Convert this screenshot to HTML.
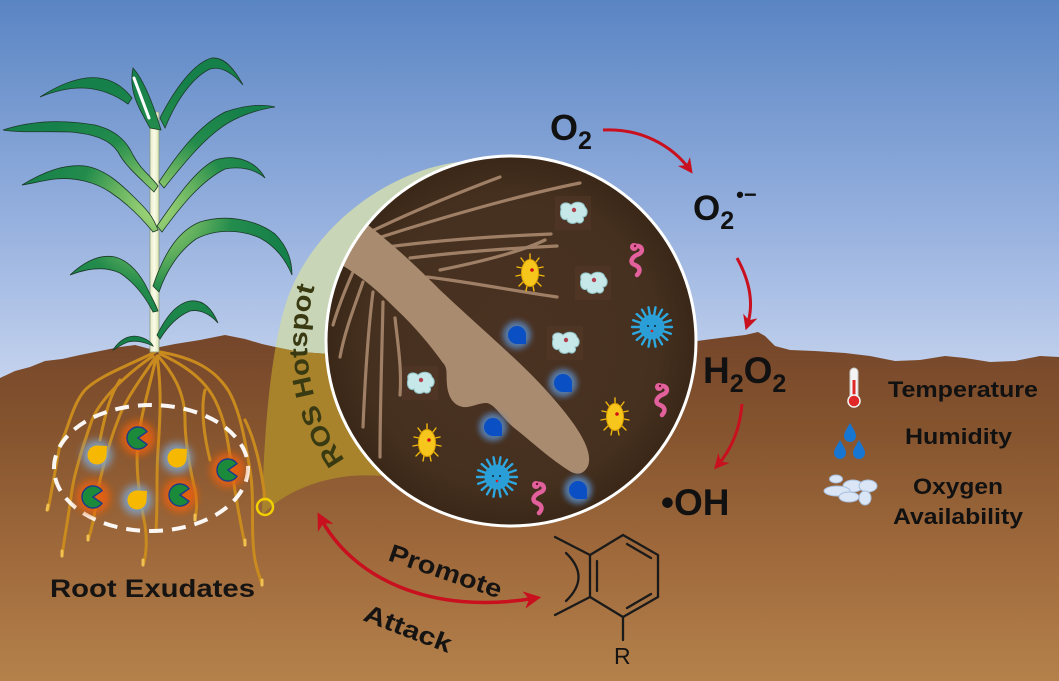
<!DOCTYPE html>
<html><head><meta charset="utf-8"><style>html,body{margin:0;padding:0;background:#fff}svg{display:block}</style></head>
<body>
<svg width="1059" height="681" viewBox="0 0 1059 681" xmlns="http://www.w3.org/2000/svg" font-family="'Liberation Sans', sans-serif">
<defs>
  <linearGradient id="sky" x1="0" y1="0" x2="0" y2="1" gradientUnits="objectBoundingBox">
    <stop offset="0" stop-color="#5a85c3"/><stop offset="0.5" stop-color="#90acdc"/><stop offset="1" stop-color="#cad7f0"/>
  </linearGradient>
  <linearGradient id="soil" x1="0" y1="330" x2="0" y2="681" gradientUnits="userSpaceOnUse">
    <stop offset="0" stop-color="#74452a"/><stop offset="0.3" stop-color="#86552f"/><stop offset="0.65" stop-color="#a06a3c"/><stop offset="1" stop-color="#b4814b"/>
  </linearGradient>
  <radialGradient id="circ" cx="511" cy="341" r="185" gradientUnits="userSpaceOnUse">
    <stop offset="0" stop-color="#4b3222"/><stop offset="0.8" stop-color="#45301f"/><stop offset="1" stop-color="#3a2717"/>
  </radialGradient>
  <radialGradient id="leaf" cx="155" cy="210" r="130" gradientUnits="userSpaceOnUse">
    <stop offset="0" stop-color="#a6d87a"/><stop offset="0.35" stop-color="#62b05e"/><stop offset="0.6" stop-color="#238c4c"/><stop offset="1" stop-color="#16804a"/>
  </radialGradient>
  <linearGradient id="stem" x1="0" y1="0" x2="1" y2="0">
    <stop offset="0" stop-color="#e6ecc8"/><stop offset="0.5" stop-color="#fbfbe8"/><stop offset="1" stop-color="#d8e4b0"/>
  </linearGradient>
  <clipPath id="cclip"><circle cx="511" cy="341" r="184"/></clipPath>
  <clipPath id="soilclip"><path d="M0,378 L15,371 L30,367 L45,361 L62,359 L80,355 L100,351 L120,347 L135,345 L150,349 L175,344 L200,340 L225,335 L245,339 L262,344 L280,348 L300,352 L330,354 L420,350 L600,345 L697,341 L1059,357 L1059,681 L0,681 Z"/></clipPath>
  <filter id="bl4" x="-1" y="-1" width="3" height="3"><feGaussianBlur stdDeviation="4"/></filter>
  <filter id="bl3" x="-1" y="-1" width="3" height="3"><feGaussianBlur stdDeviation="3"/></filter>
  <marker id="ah" viewBox="0 0 10 10" refX="7" refY="5" markerWidth="5" markerHeight="5" orient="auto-start-reverse" markerUnits="strokeWidth">
    <path d="M0,0 L10,5 L0,10 L3,5 Z" fill="#c8101e"/>
  </marker>
  <g id="bac">
    <g stroke="#f2b80c" stroke-width="1.4" stroke-linecap="round">
      <path d="M0,-14 L0,-19 M6,-11 L9,-15 M8,-5 L13,-6 M9,2 L14,3 M7,9 L11,13 M3,13 L4,18 M-3,13 L-4,18 M-7,9 L-11,13 M-9,2 L-14,3 M-8,-5 L-13,-6 M-6,-11 L-9,-15"/>
    </g>
    <ellipse rx="8.5" ry="13.5" fill="#f7c61c" stroke="#dca000" stroke-width="1"/>
    <circle cx="2" cy="-3" r="1.8" fill="#d01010"/>
  </g>
  <g id="vir">
    <path d="M12,0 L20,0 M11.3,4.1 L18.8,6.8 M9.2,7.7 L15.3,12.9 M6,10.4 L10,17.3 M2.1,11.8 L3.5,19.7 M-2.1,11.8 L-3.5,19.7 M-6,10.4 L-10,17.3 M-9.2,7.7 L-15.3,12.9 M-11.3,4.1 L-18.8,6.8 M-12,0 L-20,0 M-11.3,-4.1 L-18.8,-6.8 M-9.2,-7.7 L-15.3,-12.9 M-6,-10.4 L-10,-17.3 M-2.1,-11.8 L-3.5,-19.7 M2.1,-11.8 L3.5,-19.7 M6,-10.4 L10,-17.3 M9.2,-7.7 L15.3,-12.9 M11.3,-4.1 L18.8,-6.8" stroke="#2ea8e0" stroke-width="2.4" stroke-linecap="round"/>
    <circle r="12.5" fill="#2a9ed6"/>
    <circle cx="-4" cy="-1" r="1" fill="#123"/><circle cx="3" cy="-1" r="1" fill="#123"/><circle cx="0" cy="4" r="1.3" fill="#d02020"/>
  </g>
  <g id="worm">
    <path d="M-2,-10 C6,-14 10,-6 4,-3 C-4,0 -6,6 0,8 C5,10 6,14 2,18" stroke="#e2609c" stroke-width="4.5" fill="none" stroke-linecap="round"/>
    <circle cx="-1" cy="-10" r="4" fill="#e2609c"/><circle cx="0" cy="-11" r="1.2" fill="#701030"/>
  </g>
  <g id="amo">
    <rect x="-18" y="-17" width="36" height="34" fill="#533828" opacity="0.55"/>
    <path d="M-12,-4 C-14,-10 -6,-12 -2,-8 C2,-12 10,-12 12,-6 C16,-2 14,4 10,4 C12,8 8,12 4,9 C0,12 -6,10 -6,6 C-10,8 -14,4 -12,-4 Z" fill="#c6e8e8" stroke="#90c0c4" stroke-width="1"/>
    <circle cx="1" cy="-3" r="2.2" fill="#b04050"/>
  </g>
  <g id="pac">
    <circle r="17" fill="#e8600e" filter="url(#bl4)" opacity="0.9"/>
    <path d="M0,0 L9,-6.3 A11,11 0 1 0 9,6.3 Z" fill="#1b8a3a" stroke="#1d3a8a" stroke-width="1.4"/>
  </g>
  <g id="ydrop">
    <circle r="15" fill="#7fa3c8" filter="url(#bl4)" opacity="0.9"/>
    <path d="M10,-9 L9.5,0 A9.5,9.5 0 1 1 0,-9.5 Z" fill="#f6b800"/>
  </g>
  <g id="bdrop">
    <circle r="14" fill="#5a88c0" filter="url(#bl3)" opacity="0.85"/>
    <path d="M9,9 L9,0 A9,9 0 1 0 0,9 Z" fill="#0b4fc4"/>
  </g>
</defs>

<!-- sky -->
<rect x="0" y="0" width="1059" height="400" fill="url(#sky)"/>

<!-- ROS band pale -->
<path d="M458,162 C385,172 312,228 287,300 C272,345 264,420 262,515 C285,492 315,480 350,476 C390,473 420,480 450,495 L520,341 Z" fill="#c8d5b6"/>

<!-- soil -->
<path d="M0,378 L15,371 L30,367 L45,361 L62,359 L80,355 L100,351 L120,347 L135,345 L150,349 L175,344 L200,340 L225,335 L245,339 L262,344 L280,348 L300,352 L330,354 L420,350 L600,345 L697,341 L720,338 L745,335 L758,332 L765,336 L775,346 L790,350 L815,351 L845,353 L870,356 L895,361 L920,360 L945,356 L965,358 L990,362 L1015,361 L1040,356 L1059,357 L1059,681 L0,681 Z" fill="url(#soil)"/>

<!-- ROS band golden below soil -->
<g clip-path="url(#soilclip)">
  <path d="M458,162 C385,172 312,228 287,300 C272,345 264,420 262,515 C285,492 315,480 350,476 C390,473 420,480 450,495 L520,341 Z" fill="#a8832c"/>
</g>

<!-- ROS Hotspot text -->
<path id="rosarc" d="M345,460 A204,204 0 0 1 316,282" fill="none"/>
<text font-size="26" font-weight="bold" fill="#3a3a12" textLength="182" lengthAdjust="spacingAndGlyphs"><textPath href="#rosarc">ROS Hotspot</textPath></text>

<!-- roots -->
<g fill="none" stroke="#c98b1e" stroke-width="3" stroke-linecap="round">
  <path d="M155,352 C130,365 100,375 85,390 C72,405 68,430 60,445 C55,470 52,490 48,510"/>
  <path d="M153,356 C125,375 100,400 92,420 C85,440 75,470 72,490 C68,520 64,540 62,556"/>
  <path d="M155,358 C140,380 125,400 118,420 C110,440 105,460 100,480 C96,500 95,520 88,540"/>
  <path d="M156,358 C150,385 142,410 138,440 C135,470 140,500 145,525 C148,545 145,560 143,565"/>
  <path d="M157,356 C162,390 160,420 158,450 C156,480 158,500 156,530"/>
  <path d="M158,356 C175,375 185,395 185,420 C185,440 190,470 195,490 C198,505 196,515 195,520"/>
  <path d="M160,354 C185,365 205,380 215,400 C225,420 228,440 232,470 C236,500 240,520 245,545"/>
  <path d="M160,352 C195,358 215,370 228,390 C240,410 245,440 250,470 C255,500 250,530 255,560 C258,575 262,582 262,585"/>
  <path d="M245,420 C255,440 262,470 265,500"/>
  <path d="M120,380 C110,395 105,415 100,440"/>
  <path d="M205,390 C200,410 205,440 210,460"/>
</g>
<g stroke="#f0c050" stroke-width="3" stroke-linecap="round">
  <path d="M48,505 L47,510 M62,551 L62,556 M88,536 L88,540 M143,560 L143,565 M195,515 L195,520 M245,540 L245,545 M262,580 L262,585"/>
</g>
<ellipse cx="151" cy="468" rx="97" ry="63" fill="none" stroke="#ffffff" stroke-width="4" stroke-dasharray="14 9" opacity="0.95"/>
<use href="#pac" x="138" y="438"/>
<use href="#pac" x="228" y="470"/>
<use href="#pac" x="93" y="497"/>
<use href="#pac" x="180" y="495"/>
<use href="#ydrop" x="97" y="455"/>
<use href="#ydrop" x="177" y="458"/>
<use href="#ydrop" x="137" y="500"/>
<circle cx="265" cy="507" r="8" fill="none" stroke="#f2d000" stroke-width="2.5"/>

<!-- plant -->
<rect x="150" y="112" width="9" height="240" fill="url(#stem)" stroke="#8a9a80" stroke-width="0.8"/>
<g fill="url(#leaf)" stroke="#1c3a28" stroke-width="0.8">
  <path d="M150,128 C140,110 128,92 133,68 C142,78 152,100 161,130 Z"/>
  <path d="M132,98 C112,72 82,70 40,97 C72,84 100,84 128,104 Z"/>
  <path d="M160,118 C175,88 195,62 212,58 C225,57 235,70 243,85 C232,72 220,66 210,69 C195,76 178,96 165,128 Z"/>
  <path d="M159,182 C180,150 200,125 225,112 C245,105 262,104 275,107 C262,109 245,113 228,123 C205,137 185,162 164,188 Z"/>
  <path d="M3,130 C30,121 60,119 95,125 C115,130 126,140 133,155 C141,170 151,176 158,186 L154,192 C140,178 126,167 118,152 C110,140 95,134 70,132 C45,131 20,133 3,130 Z"/>
  <path d="M22,185 C45,171 65,164 85,166 C105,169 121,184 136,199 C146,209 153,216 158,230 L153,232 C140,216 125,202 110,192 C95,182 75,177 55,179 C40,181 30,184 22,185 Z"/>
  <path d="M157,226 C175,200 195,170 215,160 C235,154 255,160 265,178 C255,169 240,166 225,169 C201,181 181,206 162,232 Z"/>
  <path d="M153,286 C165,250 180,230 200,222 C225,214 255,219 275,234 C288,247 292,262 292,275 C285,258 275,246 260,238 C240,229 215,229 196,239 C179,251 166,271 159,292 Z"/>
  <path d="M70,275 C85,261 100,254 115,257 C130,261 141,275 148,290 C153,300 156,305 158,311 L153,312 C145,296 135,283 120,273 C105,266 88,268 70,275 Z"/>
  <path d="M157,335 C165,319 175,304 190,301 C205,299 213,311 218,323 C210,314 200,309 190,311 C178,316 168,326 160,339 Z"/>
  <path d="M113,350 C120,339 130,334 140,337 C147,339 151,342 153,346 C145,342 135,340 128,342 C122,344 117,348 113,350 Z"/>
</g>
<path d="M134,78 L149,118" stroke="#ffffff" stroke-width="3" stroke-linecap="round"/>

<!-- circle -->
<circle cx="511" cy="341" r="185" fill="url(#circ)"/>
<g clip-path="url(#cclip)">
  <g fill="none" stroke="#9f8066" stroke-width="3.2" stroke-linecap="round">
    <path d="M372,231 C420,208 460,192 500,177"/>
    <path d="M378,238 C440,218 520,195 580,183"/>
    <path d="M387,247 C440,240 500,236 551,234"/>
    <path d="M410,258 C460,252 515,248 557,246"/>
    <path d="M427,277 C470,282 520,292 557,297"/>
    <path d="M440,270 C480,262 520,252 545,240"/>
    <path d="M353,272 C345,290 338,308 333,325"/>
    <path d="M363,282 C355,305 345,330 340,357"/>
    <path d="M373,292 C368,330 365,380 363,427"/>
    <path d="M383,302 C382,350 380,410 380,457"/>
    <path d="M395,318 C398,345 402,370 400,395"/>
  </g>
  <path d="M368,225 C400,250 425,275 440,290 C470,318 495,340 513,357 C540,382 560,405 573,423 C585,440 592,455 588,466 C583,476 575,475 568,470 C545,455 530,440 513,427 C500,415 495,405 487,403 C478,403 470,408 463,407 C452,405 448,395 447,385 C446,375 448,368 443,363 C430,345 415,327 397,310 C380,293 365,278 330,258 L340,220 Z" fill="#a98b70"/>
  <use href="#amo" x="573" y="213"/>
  <use href="#amo" x="593" y="283"/>
  <use href="#amo" x="565" y="343"/>
  <use href="#amo" x="420" y="383"/>
  <use href="#worm" x="635" y="257"/>
  <use href="#worm" x="660" y="397"/>
  <use href="#worm" x="537" y="495"/>
  <use href="#bac" x="530" y="273"/>
  <use href="#bac" x="615" y="417"/>
  <use href="#bac" x="427" y="443"/>
  <use href="#vir" x="652" y="327"/>
  <use href="#vir" x="497" y="477"/>
  <use href="#bdrop" x="517" y="335"/>
  <use href="#bdrop" x="563" y="383"/>
  <use href="#bdrop" x="493" y="427"/>
  <use href="#bdrop" x="578" y="490"/>
</g>
<circle cx="511" cy="341" r="185" fill="none" stroke="#ffffff" stroke-width="3"/>

<!-- ROS chain -->
<g font-weight="bold" fill="#111">
  <text x="550" y="140" font-size="36">O<tspan font-size="25" dy="9">2</tspan></text>
  <text x="693" y="220" font-size="35">O<tspan font-size="25" dy="9">2</tspan><tspan font-size="22" dx="2" dy="-27">•−</tspan></text>
  <text x="703" y="383" font-size="37">H<tspan font-size="25" dy="9">2</tspan><tspan dy="-9">O</tspan><tspan font-size="25" dy="9">2</tspan></text>
  <text x="661" y="515" font-size="37">•OH</text>
</g>
<g fill="none" stroke="#c8101e" stroke-width="3" marker-end="url(#ah)">
  <path d="M603,130 C640,128 672,145 690,170"/>
  <path d="M737,258 C752,285 753,308 747,326"/>
  <path d="M742,404 C740,430 731,450 717,466"/>
</g>

<!-- legend -->
<g>
  <rect x="850" y="368" width="8" height="32" rx="4" fill="#f4f4f4" stroke="#c8c8c8" stroke-width="1"/>
  <rect x="852.5" y="380" width="3" height="20" fill="#e02828"/>
  <circle cx="854" cy="401" r="6" fill="#e02828" stroke="#f4f4f4" stroke-width="1.5"/>
  <path d="M850,423 C846,430 844,433 844,436 A6,6 0 0 0 856,436 C856,433 854,430 850,423 Z" fill="#1676d2"/>
  <path d="M840,440 C836,447 834,450 834,453 A6,6 0 0 0 846,453 C846,450 844,447 840,440 Z" fill="#1676d2"/>
  <path d="M859,440 C855,447 853,450 853,453 A6,6 0 0 0 865,453 C865,450 863,447 859,440 Z" fill="#1676d2"/>
  <g fill="#dae6f5" stroke="#a8bedd" stroke-width="1">
    <ellipse cx="836" cy="479" rx="6.5" ry="4"/>
    <ellipse cx="853" cy="486" rx="10" ry="6"/>
    <ellipse cx="868" cy="486" rx="9" ry="6"/>
    <ellipse cx="837" cy="491" rx="13" ry="5"/>
    <ellipse cx="849" cy="497" rx="10" ry="5"/>
    <ellipse cx="865" cy="498" rx="6" ry="7"/>
  </g>
</g>
<g font-weight="bold" fill="#111" font-size="22">
  <text x="888" y="397" textLength="150" lengthAdjust="spacingAndGlyphs">Temperature</text>
  <text x="905" y="444" textLength="107" lengthAdjust="spacingAndGlyphs">Humidity</text>
  <text x="913" y="494" textLength="90" lengthAdjust="spacingAndGlyphs">Oxygen</text>
  <text x="893" y="524" textLength="130" lengthAdjust="spacingAndGlyphs">Availability</text>
</g>

<!-- Root exudates label -->
<text x="50" y="597" font-size="25" font-weight="bold" fill="#161412" textLength="205" lengthAdjust="spacingAndGlyphs">Root Exudates</text>

<!-- double arrow -->
<path d="M320,517 C352,578 430,616 536,598" fill="none" stroke="#c8101e" stroke-width="3.5" marker-start="url(#ah)" marker-end="url(#ah)"/>
<text font-size="25" font-weight="bold" fill="#161412" transform="translate(387,560) rotate(19)" textLength="118" lengthAdjust="spacingAndGlyphs">Promote</text>
<text font-size="25" font-weight="bold" fill="#161412" transform="translate(362,620) rotate(21)" textLength="92" lengthAdjust="spacingAndGlyphs">Attack</text>

<!-- benzene -->
<g fill="none" stroke="#1a1a1a" stroke-width="2.3" stroke-linecap="round">
  <path d="M623,535 L658,555 L658,597 L623,617 L590,597 L590,555 Z"/>
  <path d="M597,561 L597,591"/>
  <path d="M627,544 L651,558"/>
  <path d="M627,608 L651,594"/>
  <path d="M590,555 L555,537"/>
  <path d="M590,597 L555,615"/>
  <path d="M566,553 Q591,577 566,601"/>
  <path d="M623,617 L623,640"/>
</g>
<text x="614" y="664" font-size="23" fill="#161412">R</text>
</svg>
</body></html>
